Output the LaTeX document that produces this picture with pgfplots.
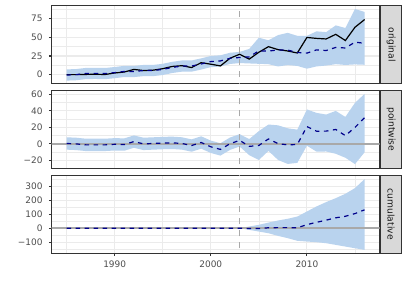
\documentclass[border=0pt]{standalone}
\usepackage{pgfplots}
\pgfplotsset{compat=1.18}
\usepackage{pgfplotstable}
\usepgfplotslibrary{fillbetween}
\usepackage{fontspec}
\setmainfont{DejaVu Sans}

\definecolor{bandc}{HTML}{B9D3EE}
\definecolor{gridc}{HTML}{EBEBEB}
\definecolor{framec}{HTML}{333333}
\definecolor{tickc}{HTML}{4D4D4D}
\definecolor{stripc}{HTML}{D9D9D9}
\definecolor{stript}{HTML}{1A1A1A}
\definecolor{dgrey}{HTML}{A9A9A9}
\definecolor{dblue}{HTML}{00008B}

\pgfplotstableread{
year orig pred plo phi pw pwlo pwhi cum cumlo cumhi
1985 0 -0.5 -8 7 0.5 -7 8 0 0 0
1986 0 0 -7.5 7.5 0 -7.5 7.5 0 0 0
1987 0.3 1.5 -6 9 -1.2 -8.7 6.3 0 0 0
1988 0.5 1.7 -5.8 9.2 -1.2 -8.7 6.3 0 0 0
1989 0.2 1.4 -6.1 8.9 -1.2 -8.7 6.3 0 0 0
1990 2.2 2.7 -4.8 10.2 -0.5 -8 7 0 0 0
1991 3.5 4.3 -3.2 11.8 -0.8 -8.3 6.7 0 0 0
1992 7 4.2 -3.3 11.7 2.8 -4.7 10.3 0 0 0
1993 5.5 5.5 -2 13 0 -7.5 7.5 0 0 0
1994 6 5.5 -2 13 0.5 -7 8 0 0 0
1995 8 7 -0.5 14.5 1 -6.5 8.5 0 0 0
1996 11 9.7 2.2 17.2 1.3 -6.2 8.8 0 0 0
1997 12 11.5 4 19 0.5 -7 8 0 0 0
1998 9.5 11.5 4 19 -2 -9.5 5.5 0 0 0
1999 16 14.3 6.8 21.8 1.7 -5.8 9.2 0 0 0
2000 14 17.5 10 25 -3.5 -11 4 0 0 0
2001 11.7 18.4 10.9 25.9 -6.7 -14.2 0.8 0 0 0
2002 22 21.8 14.3 29.3 0.2 -7.3 7.7 0 0 0
2003 27.3 23 15.5 30.5 4.3 -3.2 11.8 0 0 0
2004 20.8 23.8 15 34.5 -3 -13.7 5.8 -2 -12 12
2005 30 31.9 14.5 49.5 -1.9 -19.5 15.5 -3 -24 24
2006 37.5 31.5 14 46 6 -8.5 23.5 3 -36 40
2007 33.5 33.2 11 53 0.3 -19.5 22.5 4 -55 55
2008 31.7 32.9 12.8 56 -1.2 -24.3 18.9 4 -71 67
2009 29 29.7 11.7 52 -0.7 -23 17.3 3 -90 83
2010 49.8 28.8 8 52 21 -2.2 41.8 25 -95 119
2011 48.6 33.2 11 58 15.4 -9.4 37.6 42 -100 155
2012 47.8 32.3 12.2 57 15.5 -9.2 35.6 57 -107 186
2013 54 36.5 14 66 17.5 -12 40 74 -119 214
2014 45.7 35.7 13 62.5 10 -16.8 32.7 85 -131 245
2015 63.5 43.5 13.7 88 20 -24.5 49.8 104 -143 286
2016 73.8 42 13.2 84 31.8 -10.2 60.6 131 -155 350
}\data

\pgfplotsset{
  panel/.style={
    scale only axis, width=327.8bp, height=78bp,
    xmin=1983.45, xmax=2017.55,
    axis line style={framec, line width=1.07bp},
    tick pos=left, tick align=outside,
    major tick length=2.75bp, minor tick length=0pt,
    tick style={framec, line width=1.07bp},
    xtick={1990,2000,2010}, minor xtick={1985,1995,2005,2015},
    xticklabels={1990,2000,2010},
    xmajorgrids, ymajorgrids, xminorgrids, yminorgrids,
    major grid style={gridc, line width=1.07bp},
    minor grid style={gridc, line width=0.53bp},
    ticklabel style={font=\fontsize{9}{10}\selectfont, text=tickc},
    yticklabel style={anchor=east, inner sep=0pt, xshift=-6.2bp},
    xticklabel style={anchor=north, inner sep=0pt, yshift=-4.5bp},
  },
  bandst/.style={fill=bandc, draw=none},
  origst/.style={black, line width=1.2bp},
  predst/.style={dblue, line width=1.2bp, dash pattern=on 4.5bp off 4.5bp},
  vlinest/.style={dgrey, line width=1.3bp, dash pattern=on 6bp off 6bp},
  hlinest/.style={dgrey, line width=1.7bp},
}

\newcommand{\strip}[2]{%
  \draw[framec, line width=1.07bp, fill=stripc] ([xshift=1.3bp]#1.south east) rectangle ([xshift=21.8bp]#1.north east);
  \node[rotate=-90, text=stript, font=\fontsize{9.2}{10}\selectfont, inner sep=0pt] at ([xshift=11.55bp]#1.east) {#2};
}

\begin{document}
\begin{tikzpicture}
\path (0,0) rectangle (407bp,291bp);

% panel 1: original
\begin{axis}[panel, name=p1, at={(51.7bp,285.4bp)}, anchor=north west,
  xmajorticks=false,
  ymin=-12, ymax=92.5,
  ytick={0,25,50,75}, yticklabels={0,25,50,75},
  minor ytick={12.5,37.5,62.5,87.5}]
  \addplot[draw=none, name path=u1] table[x=year, y=phi] {\data};
  \addplot[draw=none, name path=l1] table[x=year, y=plo] {\data};
  \addplot[bandst] fill between[of=u1 and l1];
  \addplot[vlinest] coordinates {(2003,-1000) (2003,1000)};
  \addplot[origst] table[x=year, y=orig] {\data};
  \addplot[predst] table[x=year, y=pred] {\data};
\end{axis}
\strip{p1}{original}

% panel 2: pointwise
\begin{axis}[panel, name=p2, at={(51.7bp,200.7bp)}, anchor=north west,
  xmajorticks=false,
  ymin=-29.6, ymax=65,
  ytick={-20,0,20,40,60}, yticklabels={−20,0,20,40,60},
  minor ytick={-10,10,30,50}]
  \addplot[draw=none, name path=u2] table[x=year, y=pwhi] {\data};
  \addplot[draw=none, name path=l2] table[x=year, y=pwlo] {\data};
  \addplot[bandst] fill between[of=u2 and l2];
  \addplot[hlinest] coordinates {(1980,0) (2020,0)};
  \addplot[vlinest] coordinates {(2003,-1000) (2003,1000)};
  \addplot[predst] table[x=year, y=pw] {\data};
\end{axis}
\strip{p2}{pointwise}

% panel 3: cumulative
\begin{axis}[panel, name=p3, at={(51.7bp,115.7bp)}, anchor=north west,
  ymin=-179, ymax=377,
  ytick={-100,0,100,200,300}, yticklabels={−100,0,100,200,300},
  minor ytick={-150,-50,50,150,250,350}]
  \addplot[draw=none, name path=u3] table[x=year, y=cumhi] {\data};
  \addplot[draw=none, name path=l3] table[x=year, y=cumlo] {\data};
  \addplot[bandst] fill between[of=u3 and l3];
  \addplot[hlinest] coordinates {(1980,0) (2020,0)};
  \addplot[vlinest] coordinates {(2003,-1000) (2003,1000)};
  \addplot[predst] table[x=year, y=cum] {\data};
\end{axis}
\strip{p3}{cumulative}
\end{tikzpicture}
\end{document}
